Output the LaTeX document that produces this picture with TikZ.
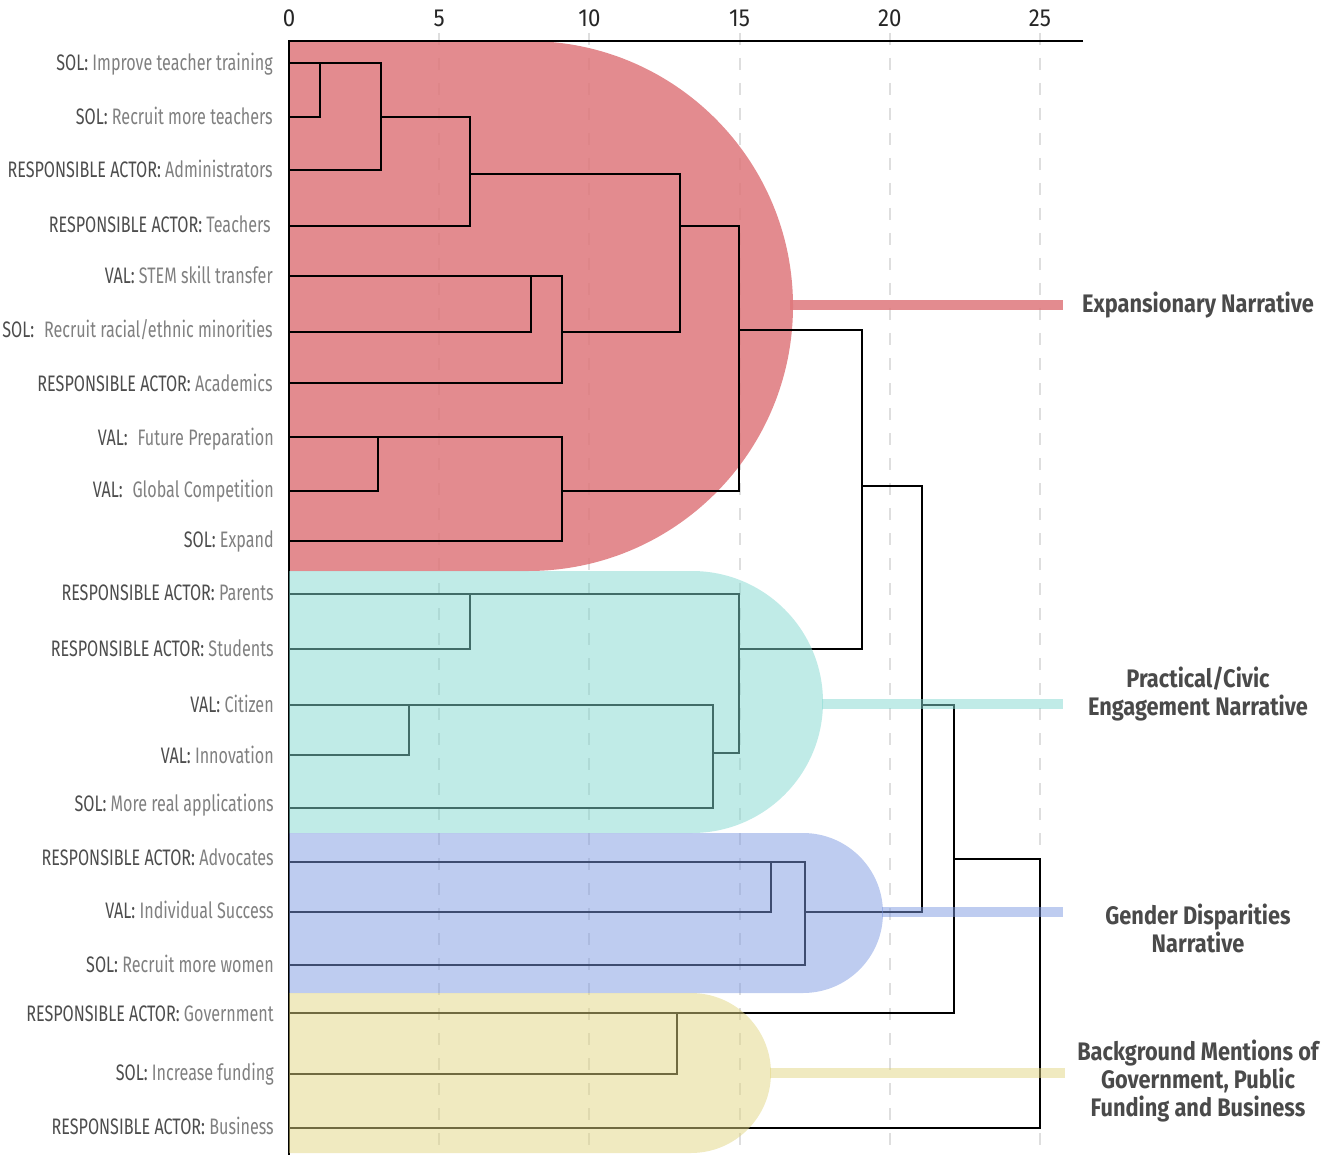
\documentclass[tikz,border=0pt]{standalone}
\usepackage{fontspec}
\setmainfont{Fira Sans}[FakeStretch=0.72]
\newfontfamily\tickfont{Fira Sans}[FakeStretch=0.9]
\newfontfamily\narrfont{Fira Sans}[FakeStretch=0.86]
\definecolor{precol}{HTML}{4D4D4D}
\definecolor{restcol}{HTML}{808080}
\definecolor{narrcol}{HTML}{4A4A4A}
\definecolor{gridcol}{HTML}{DEDEDE}
\definecolor{redc}{HTML}{DE777B}
\definecolor{cyanc}{HTML}{82D8D0}
\definecolor{bluec}{HTML}{7D99E1}
\definecolor{yelc}{HTML}{E1D581}
\newcommand\leaftext[2]{\textcolor{precol}{#1}~\textcolor{restcol}{#2}}
\tikzset{
  leaf/.style={anchor=base east, inner sep=0pt, font=\fontsize{16.8}{19}\selectfont},
  tick/.style={inner sep=0pt, font=\tickfont\fontsize{18.5}{20}\selectfont, text=black!85},
  narr/.style={align=center, inner sep=0pt, text=narrcol, font=\narrfont\bfseries\fontsize{19}{21}\selectfont},
  gridl/.style={draw=gridcol, line width=1.5pt, dash pattern=on 9pt off 9.75pt},
  dend/.style={draw=black, line width=1.8pt},
  axisl/.style={draw=black, line width=1.5pt},
  band/.style={line width=7pt},
}
\begin{document}
\begin{tikzpicture}[x=0.75pt,y=-0.75pt]
\useasboundingbox (0,0) rectangle (1334,1155);
% grid lines
\foreach \v in {5,10,15,20,25}{
  \draw[gridl] ({289+30.04*\v},33) -- ({289+30.04*\v},1155);
}
% red region
\fill[redc, opacity=0.85] (289,41) -- (528,41) arc[start angle=-90, end angle=90, radius=265] -- (289,571) -- cycle;
% tick labels
\foreach \v in {0,5,10,15,20,25}{
  \node[tick] (t\v) at ({289+30.04*\v},18) {\v};
}
% leaf start points
\foreach \i/\y in {1/63,2/117,3/170,4/226,5/276,6/332,7/383,8/437,9/491,10/541,11/594,12/649,13/705,14/755,15/808,16/862,17/912,18/965,19/1013,20/1074,21/1128}{
  \coordinate (s\i) at (289,\y);
}
% merge points
\coordinate (M1) at (320,63);
\coordinate (M2) at (381,117);
\coordinate (M3) at (470,174);
\coordinate (M4) at (531,276);
\coordinate (M5) at (562,332);
\coordinate (M6) at (680,226);
\coordinate (M7) at (378,437);
\coordinate (M8) at (562,491);
\coordinate (M9) at (739,330);
\coordinate (M10) at (470,594);
\coordinate (M11) at (409,705);
\coordinate (M12) at (713,753);
\coordinate (M13) at (739,649);
\coordinate (M14) at (862,486);
\coordinate (M15) at (771,862);
\coordinate (M16) at (805,912);
\coordinate (M17) at (922,705);
\coordinate (M18) at (677,1013);
\coordinate (M19) at (954,859);
\coordinate (M20) at (1040,859);
% dendrogram
\draw[dend] (s1) -| (M1) |- (s2);
\draw[dend] (M1) -| (M2) |- (s3);
\draw[dend] (M2) -| (M3) |- (s4);
\draw[dend] (s5) -| (M4) |- (s6);
\draw[dend] (M4) -| (M5) |- (s7);
\draw[dend] (M3) -| (M6) |- (M5);
\draw[dend] (s8) -| (M7) |- (s9);
\draw[dend] (M7) -| (M8) |- (s10);
\draw[dend] (M6) -| (M9) |- (M8);
\draw[dend] (s11) -| (M10) |- (s12);
\draw[dend] (s13) -| (M11) |- (s14);
\draw[dend] (M11) -| (M12) |- (s15);
\draw[dend] (M10) -| (M13) |- (M12);
\draw[dend] (M9) -| (M14) |- (M13);
\draw[dend] (s16) -| (M15) |- (s17);
\draw[dend] (M15) -| (M16) |- (s18);
\draw[dend] (M14) -| (M17) |- (M16);
\draw[dend] (s19) -| (M18) |- (s20);
\draw[dend] (M17) -| (M19) |- (M18);
\draw[dend] (M19) -| (M20) |- (s21);
% axes
\coordinate (ax0) at (289,41);
\coordinate (axr) at (1083,41);
\coordinate (axb) at (289,1155);
\draw[axisl] (axr) -- (ax0) -- (axb);
% translucent regions
\fill[cyanc, opacity=0.5] (289,571) -- (692,571) arc[start angle=-90, end angle=90, radius=131] -- (289,833) -- cycle;
\fill[bluec, opacity=0.5] (289,833) -- (803,833) arc[start angle=-90, end angle=90, radius=80] -- (289,993) -- cycle;
\fill[yelc, opacity=0.5] (289,993) -- (691,993) arc[start angle=-90, end angle=90, radius=80] -- (289,1153) -- cycle;
% bands
\coordinate (rA) at (790,305); \coordinate (rB) at (1063,305);
\coordinate (cA) at (822,704); \coordinate (cB) at (1063,704);
\coordinate (bA) at (882,912); \coordinate (bB) at (1063,912);
\coordinate (yA) at (770,1073); \coordinate (yB) at (1065,1073);
\draw[band, draw=redc, opacity=0.85] (rA) -- (rB);
\draw[band, draw=cyanc, opacity=0.5] (cA) -- (cB);
\draw[band, draw=bluec, opacity=0.5] (bA) -- (bB);
\draw[band, draw=yelc, opacity=0.5] (yA) -- (yB);
% narrative labels
\node[narr] (n1) at (1198,305) {Expansionary Narrative};
\node[narr] (n2) at (1198,694) {Practical/Civic\\Engagement Narrative};
\node[narr] (n3) at (1198,928) {Gender Disparities\\Narrative};
\node[narr] (n4) at (1198,1081) {Background Mentions of\\Government, Public\\Funding and Business};
% leaf labels
\node[leaf] (l1) at (273,71) {\leaftext{SOL:}{Improve teacher training}};
\node[leaf] (l2) at (273,125) {\leaftext{SOL:}{Recruit more teachers}};
\node[leaf] (l3) at (273,178) {\leaftext{RESPONSIBLE ACTOR:}{Administrators}};
\node[leaf] (l4) at (271,233) {\leaftext{RESPONSIBLE ACTOR:}{Teachers}};
\node[leaf] (l5) at (273,284) {\leaftext{VAL:}{STEM skill transfer}};
\node[leaf] (l6) at (273,338) {\leaftext{SOL:}{\hspace{0.25em}Recruit racial/ethnic minorities}};
\node[leaf] (l7) at (273,391) {\leaftext{RESPONSIBLE ACTOR:}{Academics}};
\node[leaf] (l8) at (274,445) {\leaftext{VAL:}{\hspace{0.25em}Future Preparation}};
\node[leaf] (l9) at (274,497) {\leaftext{VAL:}{\hspace{0.25em}Global Competition}};
\node[leaf] (l10) at (274,547) {\leaftext{SOL:}{Expand}};
\node[leaf] (l11) at (274,600) {\leaftext{RESPONSIBLE ACTOR:}{Parents}};
\node[leaf] (l12) at (274,656) {\leaftext{RESPONSIBLE ACTOR:}{Students}};
\node[leaf] (l13) at (274,712) {\leaftext{VAL:}{Citizen}};
\node[leaf] (l14) at (274,763) {\leaftext{VAL:}{Innovation}};
\node[leaf] (l15) at (274,811) {\leaftext{SOL:}{More real applications}};
\node[leaf] (l16) at (274,865) {\leaftext{RESPONSIBLE ACTOR:}{Advocates}};
\node[leaf] (l17) at (274,918) {\leaftext{VAL:}{Individual Success}};
\node[leaf] (l18) at (274,972) {\leaftext{SOL:}{Recruit more women}};
\node[leaf] (l19) at (274,1021) {\leaftext{RESPONSIBLE ACTOR:}{Government}};
\node[leaf] (l20) at (274,1080) {\leaftext{SOL:}{Increase funding}};
\node[leaf] (l21) at (274,1134) {\leaftext{RESPONSIBLE ACTOR:}{Business}};
\end{tikzpicture}
\end{document}
